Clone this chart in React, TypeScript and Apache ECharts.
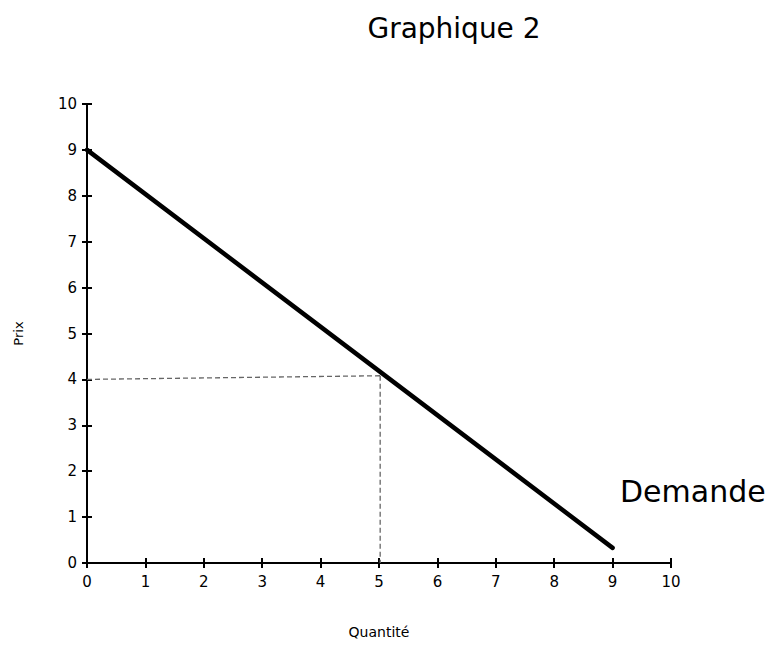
import React, { useEffect, useRef } from "react";
import * as echarts from "echarts";

const titleText = "Graphique 2";
const xName = "Quantité";
const yName = "Prix";
const demandLabel = "Demande";
const demandLine: [number, number][] = [
  [0, 9],
  [9, 0.33],
];
const guideH: [number, number][] = [
  [0, 4],
  [5.02, 4.08],
];
const guideV: [number, number][] = [
  [5.02, 4.08],
  [5.02, 0],
];

const FONT = "DejaVu Sans";

export default function App() {
  const ref = useRef<HTMLDivElement>(null);
  useEffect(() => {
    document.body.style.margin = "0";
    const chart = echarts.init(ref.current!, null, { renderer: "svg" });
    const axisCommon = {
      type: "value",
      min: 0,
      max: 10,
      interval: 1,
      splitLine: { show: false },
    };
    chart.setOption({
      animation: false,
      backgroundColor: "#ffffff",
      title: {
        text: titleText,
        left: 449,
        top: 9,
        textAlign: "center",
        textStyle: { fontFamily: FONT, fontSize: 28, fontWeight: "normal", color: "#000" },
      },
      grid: { left: 87, right: 102, top: 104, bottom: 82 },
      xAxis: [
        {
          ...axisCommon,
          name: xName,
          nameLocation: "middle",
          nameGap: 62,
          nameTextStyle: { fontFamily: FONT, fontSize: 14, color: "#000" },
          axisLine: { lineStyle: { color: "#000", width: 2 } },
          axisTick: { length: 5, lineStyle: { color: "#000", width: 2 } },
          axisLabel: { fontFamily: FONT, fontSize: 15, color: "#000", margin: 11 },
        },
        {
          ...axisCommon,
          position: "bottom",
          axisLine: { show: false },
          axisTick: { inside: true, length: 5, lineStyle: { color: "#000", width: 2 } },
          axisLabel: { show: false },
        },
      ],
      yAxis: [
        {
          ...axisCommon,
          name: yName,
          nameLocation: "middle",
          nameGap: 62,
          nameTextStyle: { fontFamily: FONT, fontSize: 13, color: "#000" },
          axisLine: { lineStyle: { color: "#000", width: 2 } },
          axisTick: { length: 5, lineStyle: { color: "#000", width: 2 } },
          axisLabel: { fontFamily: FONT, fontSize: 15, color: "#000", margin: 10 },
        },
        {
          ...axisCommon,
          position: "left",
          axisLine: { show: false },
          axisTick: { inside: true, length: 5, lineStyle: { color: "#000", width: 2 } },
          axisLabel: { show: false },
        },
      ],
      series: [
        {
          type: "line",
          data: guideH,
          showSymbol: false,
          lineStyle: { color: "#666", width: 1.3, type: [5, 3] },
          silent: true,
          z: 1,
        },
        {
          type: "line",
          data: guideV,
          showSymbol: false,
          lineStyle: { color: "#666", width: 1.3, type: [5, 3] },
          silent: true,
          z: 1,
        },
        {
          type: "line",
          data: demandLine,
          showSymbol: false,
          lineStyle: { color: "#000", width: 4.5, cap: "round" },
          silent: true,
          z: 3,
        },
      ],
      graphic: [
        {
          type: "text",
          left: 620,
          top: 476,
          style: {
            text: demandLabel,
            fontFamily: FONT,
            fontSize: 30,
            fill: "#000",
          },
        },
      ],
    });
    return () => chart.dispose();
  }, []);
  return <div ref={ref} style={{ width: 773, height: 645 }} />;
}
